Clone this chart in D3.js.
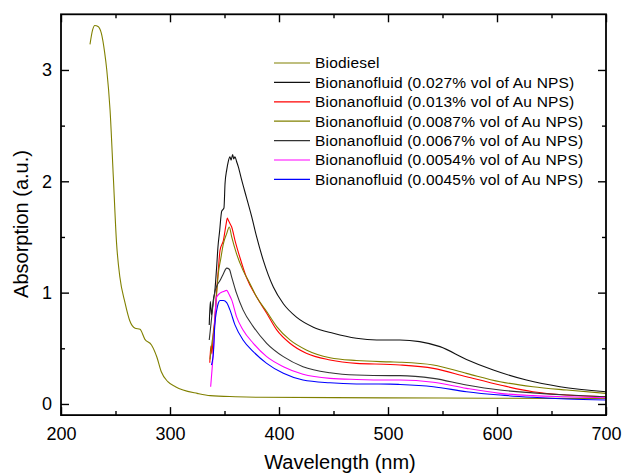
<!DOCTYPE html>
<html>
<head>
<meta charset="utf-8">
<script src="https://cdn.jsdelivr.net/npm/d3@7"></script>
<style>
  body { margin: 0; background: #fff; }
  svg { font-family: 'Liberation Sans', Arial, sans-serif; }
  .axis path, .axis line { stroke: #000; }
  .axis text { font-size: 18px; fill: #000; }
</style>
</head>
<body>
<svg id="chart" width="626" height="473"></svg>
<script>
// wavelength (nm) / absorption (a.u.)
const biodieselNm = [226.6, 229, 231, 234, 237, 240, 242, 245, 248, 251, 254, 258.7, 263, 268, 272.5, 277, 283, 288, 292, 298, 305, 312, 325, 337, 360, 383, 450, 550, 650, 700];
const biodieselAbs = [3.23, 3.36, 3.40, 3.39, 3.33, 3.16, 3.0, 2.64, 2.04, 1.44, 1.14, 0.91, 0.75, 0.68, 0.67, 0.58, 0.53, 0.42, 0.29, 0.20, 0.155, 0.125, 0.095, 0.075, 0.065, 0.06, 0.057, 0.053, 0.05, 0.05];

const np027Nm = [336, 337, 338, 339, 340, 341, 342, 343, 344, 345.5, 347.4, 349.5, 350.5, 352, 353.5, 355, 356, 357.5, 358.5, 359.6, 361, 362.7, 365.8, 370, 375, 379.5, 385.6, 394.8, 404, 416, 431.5, 449.8, 471, 489.6, 511, 529, 547.7, 572, 596.6, 627, 657.8, 700];
const np027Abs = [0.71, 0.92, 0.80, 0.87, 0.95, 1.0, 1.12, 1.26, 1.41, 1.55, 1.73, 1.76, 1.98, 2.10, 2.18, 2.22, 2.19, 2.24, 2.20, 2.22, 2.18, 2.13, 2.01, 1.86, 1.68, 1.50, 1.29, 1.05, 0.90, 0.78, 0.69, 0.635, 0.59, 0.575, 0.575, 0.56, 0.515, 0.40, 0.305, 0.215, 0.155, 0.11];

const np013Nm = [336.5, 337.5, 338.5, 339.7, 341, 342.5, 344.3, 345.9, 349, 351.4, 352.6, 353.5, 355, 356.6, 359.6, 364, 370, 379.5, 388.7, 397.9, 410, 425, 446.8, 471, 502, 511, 541.6, 572, 602.8, 633, 664, 700];
const np013Abs = [0.37, 0.52, 0.45, 0.635, 0.75, 0.98, 1.20, 1.38, 1.47, 1.61, 1.67, 1.65, 1.62, 1.59, 1.47, 1.32, 1.14, 0.96, 0.815, 0.665, 0.545, 0.455, 0.395, 0.365, 0.355, 0.35, 0.32, 0.245, 0.17, 0.11, 0.08, 0.065];

const np0087Nm = [336.7, 338.5, 341, 342.5, 344.3, 346.5, 349, 352, 354.4, 356.6, 361, 367, 373.4, 379.5, 388.7, 397.9, 410, 425, 446.8, 471, 502, 511, 541.6, 572, 602.8, 633, 664, 700];
const np0087Abs = [0.40, 0.55, 0.725, 0.95, 1.17, 1.30, 1.44, 1.53, 1.59, 1.50, 1.35, 1.20, 1.08, 0.96, 0.83, 0.695, 0.575, 0.485, 0.415, 0.39, 0.378, 0.375, 0.35, 0.275, 0.20, 0.155, 0.125, 0.095];

const np0067Nm = [336, 337.5, 339, 341, 343, 345.9, 349, 352, 354.4, 356.6, 361, 367, 376.4, 388.7, 404, 422, 446.8, 471, 502, 511, 541.6, 572, 602.8, 633, 664, 700];
const np0067Abs = [0.575, 0.71, 0.85, 1.0, 1.06, 1.11, 1.17, 1.22, 1.21, 1.14, 0.995, 0.845, 0.695, 0.545, 0.425, 0.335, 0.28, 0.26, 0.255, 0.255, 0.23, 0.17, 0.125, 0.10, 0.08, 0.065];

const np0054Nm = [337.3, 338.5, 340.4, 341.5, 342.8, 345.9, 349, 352, 354.4, 356.6, 361, 367, 376.4, 388.7, 404, 422, 446.8, 471, 502, 511, 541.6, 572, 602.8, 633, 664, 700];
const np0054Abs = [0.155, 0.30, 0.575, 0.815, 0.96, 0.995, 1.01, 1.02, 0.98, 0.935, 0.785, 0.665, 0.545, 0.425, 0.335, 0.267, 0.23, 0.22, 0.215, 0.215, 0.195, 0.14, 0.095, 0.075, 0.065, 0.055];

const np0045Nm = [338, 339.8, 341, 343, 344.3, 345.9, 349, 352, 355, 359.6, 367, 376.4, 388.7, 404, 422, 446.8, 471, 502, 511, 541.6, 572, 602.8, 633, 664, 700];
const np0045Abs = [0.35, 0.455, 0.695, 0.85, 0.905, 0.93, 0.93, 0.91, 0.845, 0.71, 0.575, 0.47, 0.365, 0.275, 0.215, 0.19, 0.18, 0.178, 0.175, 0.155, 0.11, 0.08, 0.06, 0.045, 0.035];

const seriesNames = [
  'Biodiesel',
  'Bionanofluid (0.027% vol of Au NPS)',
  'Bionanofluid (0.013% vol of Au NPS)',
  'Bionanofluid (0.0087% vol of Au NPS)',
  'Bionanofluid (0.0067% vol of Au NPS)',
  'Bionanofluid (0.0054% vol of Au NPS)',
  'Bionanofluid (0.0045% vol of Au NPS)'
];
const seriesNm = [biodieselNm, np027Nm, np013Nm, np0087Nm, np0067Nm, np0054Nm, np0045Nm];
const seriesAbs = [biodieselAbs, np027Abs, np013Abs, np0087Abs, np0067Abs, np0054Abs, np0045Abs];
const seriesColors = ['#808000', '#111111', '#ff0000', '#808000', '#333333', '#ff00ff', '#0000ff'];

const xMajor = [200, 300, 400, 500, 600, 700];
const xMinor = [250, 350, 450, 550, 650];
const yMajor = [0, 1, 2, 3];
const yMinor = [0.5, 1.5, 2.5];

const svg = d3.select('#chart');
const plotLeft = 61, plotRight = 606, plotTop = 14.3, plotBottom = 415.1;

const x = d3.scaleLinear().domain([200, 700]).range([plotLeft, plotRight]);
const y = d3.scaleLinear().domain([-0.1, 3.5]).range([plotBottom, plotTop]);

// axes: major + minor ticks, all pointing inward
function addAxis(makeAxis, scale, transform, major, minor, labels, padding) {
  const gMinor = svg.append('g').attr('class', 'axis').attr('transform', transform)
    .call(makeAxis(scale).tickValues(minor).tickSize(-4).tickSizeOuter(0).tickFormat(''));
  gMinor.select('.domain').remove();
  const gMajor = svg.append('g').attr('class', 'axis').attr('transform', transform)
    .call(makeAxis(scale).tickValues(major).tickSize(-8).tickSizeOuter(0)
      .tickPadding(padding).tickFormat(labels ? d3.format('d') : ''));
  gMajor.select('.domain').remove();
  gMajor.selectAll('line').attr('stroke-width', 1.4);
  gMinor.selectAll('line').attr('stroke-width', 1.4);
}

addAxis(d3.axisBottom, x, `translate(0,${plotBottom})`, xMajor, xMinor, true, 12);
addAxis(d3.axisTop, x, `translate(0,${plotTop})`, xMajor, xMinor, false, 0);
addAxis(d3.axisLeft, y, `translate(${plotLeft},0)`, yMajor, yMinor, true, 9);
addAxis(d3.axisRight, y, `translate(${plotRight},0)`, yMajor, yMinor, false, 0);

// clip lines to the frame
svg.append('clipPath').attr('id', 'plot-clip')
  .append('rect').attr('x', plotLeft).attr('y', plotTop)
  .attr('width', plotRight - plotLeft).attr('height', plotBottom - plotTop);

const line = d3.line()
  .x(d => x(d[0]))
  .y(d => y(d[1]))
  .curve(d3.curveMonotoneX);

const lines = svg.append('g').attr('clip-path', 'url(#plot-clip)');
seriesNames.forEach((name, i) => {
  const pts = seriesNm[i].map((nm, j) => [nm, seriesAbs[i][j]]);
  lines.append('path')
    .datum(pts)
    .attr('fill', 'none')
    .attr('stroke', seriesColors[i])
    .attr('stroke-width', 1.1)
    .attr('d', line);
});

// frame
svg.append('rect')
  .attr('x', plotLeft).attr('y', plotTop)
  .attr('width', plotRight - plotLeft).attr('height', plotBottom - plotTop)
  .attr('fill', 'none').attr('stroke', '#000').attr('stroke-width', 1.8);

// legend
const legend = svg.append('g').attr('transform', 'translate(274,63)');
seriesNames.forEach((name, i) => {
  const row = legend.append('g').attr('transform', `translate(0,${i * 19.4})`);
  row.append('line')
    .attr('x1', 0).attr('x2', 36).attr('y1', 0).attr('y2', 0)
    .attr('stroke', seriesColors[i]).attr('stroke-width', 1.2);
  row.append('text')
    .attr('x', 41).attr('y', 0).attr('dy', '0.35em')
    .attr('font-size', 15.5)
    .attr('letter-spacing', 0.2)
    .text(name);
});

// axis titles
svg.append('text')
  .attr('x', 340).attr('y', 469)
  .attr('text-anchor', 'middle')
  .attr('font-size', 20)
  .text('Wavelength (nm)');

svg.append('text')
  .attr('transform', 'translate(27.5,224) rotate(-90)')
  .attr('text-anchor', 'middle')
  .attr('font-size', 20)
  .text('Absorption (a.u.)');
</script>
</body>
</html>
